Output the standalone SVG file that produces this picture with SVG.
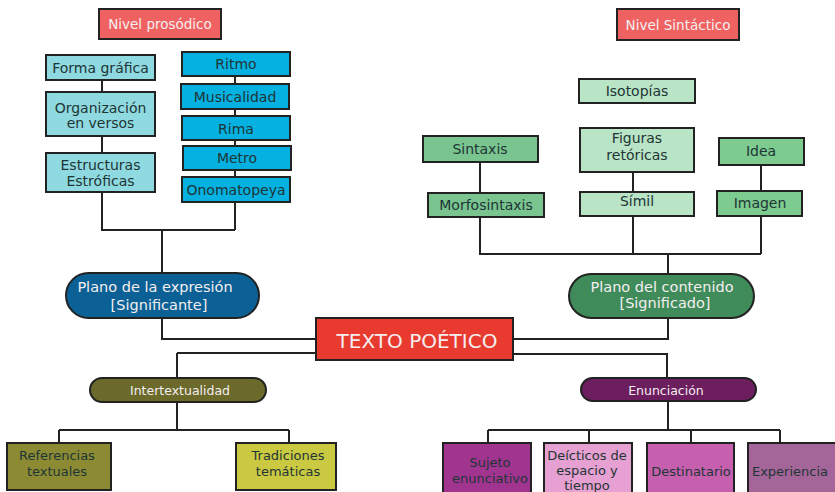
<svg xmlns="http://www.w3.org/2000/svg" width="835" height="492" viewBox="0 0 835 492">
<style>
text{font-family:"DejaVu Sans","Liberation Sans",sans-serif;font-size:14px;text-anchor:middle;fill:#1e3535}
.b{stroke:#222;stroke-width:2}
.c{fill:none;stroke:#222;stroke-width:2}
.lt{fill:#f4eef0}
.s{font-size:12.5px}
.n{font-size:13.5px}
.p{font-size:14.5px}
.m{font-size:13px}
</style>
<rect width="835" height="492" fill="#fff"/>
<g id="connectors">
<path class="c" d="M102 80V92M102 136V153M102 192V230H235M235 76V84M235 109V116M235 140V146M235 170V177M235 202V230M162 230V273"/>
<path class="c" d="M162 318V339H317M177 353H317M177 353V378M177 402V430M59 430H289M59 430V443M289 430V443"/>
<path class="c" d="M480 162V193M633 172V192M761 165V191M480 217V254H761M633 216V254M761 216V254M668 254V274"/>
<path class="c" d="M668 318V339H513M513 354H667V378M668 401V430M488 430H780M488 430V443M589 430V443M691 430V443M780 430V443"/>
</g>
<g id="nivel-prosodico"><rect class="b" x="99" y="9" width="122" height="30" fill="#f06262"/><text class="lt n" x="160" y="29">Nivel prosódico</text></g>
<g id="forma-grafica"><rect class="b" x="46" y="55" width="109" height="25" fill="#8fd9e0"/><text x="100.5" y="72.5">Forma gráfica</text></g>
<g id="organizacion"><rect class="b" x="46" y="92" width="109" height="44" fill="#8fd9e0"/><text x="100.5" y="112.5">Organización</text><text x="100.5" y="128">en versos</text></g>
<g id="estructuras"><rect class="b" x="46" y="153" width="109" height="39" fill="#8fd9e0"/><text x="100.5" y="170">Estructuras</text><text x="100.5" y="186">Estróficas</text></g>
<g id="ritmo"><rect class="b" x="182" y="52" width="108" height="24" fill="#05b1e1"/><text x="236" y="69">Ritmo</text></g>
<g id="musicalidad"><rect class="b" x="181" y="84" width="108" height="25" fill="#05b1e1"/><text x="235" y="101.5">Musicalidad</text></g>
<g id="rima"><rect class="b" x="182" y="116" width="108" height="24" fill="#05b1e1"/><text x="236" y="133.5">Rima</text></g>
<g id="metro"><rect class="b" x="183" y="146" width="108" height="24" fill="#05b1e1"/><text x="237" y="163">Metro</text></g>
<g id="onomatopeya"><rect class="b" x="182" y="177" width="108" height="25" fill="#05b1e1"/><text x="236" y="194.5">Onomatopeya</text></g>
<g id="plano-expresion"><rect class="b" x="66" y="273" width="193" height="45" rx="22.5" fill="#0b6195"/><text class="lt p" x="155" y="292">Plano de la expresión</text><text class="lt p" x="159" y="310">[Significante]</text></g>
<g id="nivel-sintactico"><rect class="b" x="617" y="9" width="122" height="31" fill="#f06262"/><text class="lt n" x="678" y="29.5">Nivel Sintáctico</text></g>
<g id="isotopias"><rect class="b" x="579" y="79" width="116" height="24" fill="#b9e4c6"/><text x="637" y="96">Isotopías</text></g>
<g id="sintaxis"><rect class="b" x="423" y="136" width="115" height="26" fill="#79c48f"/><text x="480" y="153.5">Sintaxis</text></g>
<g id="morfosintaxis"><rect class="b" x="428" y="193" width="116" height="24" fill="#79c48f"/><text x="486" y="210">Morfosintaxis</text></g>
<g id="figuras"><rect class="b" x="580" y="128" width="114" height="44" fill="#b9e4c6"/><text x="637" y="143">Figuras</text><text x="637" y="160">retóricas</text></g>
<g id="simil"><rect class="b" x="580" y="192" width="114" height="24" fill="#b9e4c6"/><text x="637" y="206">Símil</text></g>
<g id="idea"><rect class="b" x="719" y="138" width="85" height="27" fill="#7dcb8f"/><text x="761" y="155.5">Idea</text></g>
<g id="imagen"><rect class="b" x="717" y="191" width="85" height="25" fill="#7dcb8f"/><text x="760" y="208">Imagen</text></g>
<g id="plano-contenido"><rect class="b" x="569" y="274" width="185" height="44" rx="22" fill="#3f8b5a"/><text class="lt p" x="662" y="292">Plano del contenido</text><text class="lt p" x="665" y="308">[Significado]</text></g>
<g id="texto-poetico"><rect class="b" x="316" y="318" width="197" height="42" fill="#e93a2f"/><text class="lt" x="417" y="347.5" style="font-size:20px">TEXTO POÉTICO</text></g>
<g id="intertextualidad"><rect class="b" x="90" y="378" width="176" height="24" rx="12" fill="#6b6a2b"/><text class="lt s" x="180" y="394.5">Intertextualidad</text></g>
<g id="referencias"><rect class="b" x="7" y="443" width="104" height="47" fill="#8c8b33"/><text class="m" x="57" y="460">Referencias</text><text class="m" x="57" y="476">textuales</text></g>
<g id="tradiciones"><rect class="b" x="236" y="443" width="100" height="47" fill="#cac941"/><text class="m" x="288" y="460">Tradiciones</text><text class="m" x="288" y="476">temáticas</text></g>
<g id="enunciacion"><rect class="b" x="581" y="378" width="175" height="23" rx="11.5" fill="#6d1e5f"/><text class="lt s" x="666" y="394.5">Enunciación</text></g>
<g id="sujeto"><rect class="b" x="443" y="443" width="88" height="52" fill="#a1348f"/><text class="m" x="490" y="467">Sujeto</text><text class="m" x="490" y="483">enunciativo</text></g>
<g id="decticos"><rect class="b" x="544" y="443" width="88" height="52" fill="#e6a0d1"/><text class="m" x="587" y="459.5">Deícticos de</text><text class="m" x="587" y="474.5">espacio y</text><text class="m" x="587" y="489.5">tiempo</text></g>
<g id="destinatario"><rect class="b" x="647" y="443" width="87" height="52" fill="#c55fae"/><text class="m" x="691" y="476">Destinatario</text></g>
<g id="experiencia"><rect class="b" x="748" y="443" width="95" height="52" fill="#a46598"/><text class="m" x="790" y="476">Experiencia</text></g>
</svg>
